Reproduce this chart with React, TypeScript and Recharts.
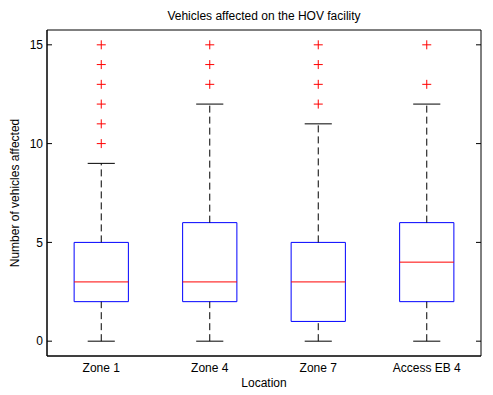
import {
  ComposedChart, Label, ReferenceArea, ReferenceLine, Scatter, XAxis, YAxis,
} from "recharts";

// Box statistics per location.
const LOCATIONS = ["Zone 1", "Zone 4", "Zone 7", "Access EB 4"];
const WHISKER_LOW = [0, 0, 0, 0];
const Q1 = [2, 2, 1, 2];
const MEDIAN = [3, 3, 3, 4];
const Q3 = [5, 6, 5, 6];
const WHISKER_HIGH = [9, 12, 11, 12];
const OUTLIERS = [
  [10, 11, 12, 13, 14, 15],
  [13, 14, 15],
  [12, 13, 14, 15],
  [13, 15],
];
const Y_TICKS = [0, 5, 10, 15];
const X_DOMAIN: [number, number] = [0.5, 4.5];
const Y_DOMAIN: [number, number] = [-0.75, 15.75];

const BOX_HALF = 0.25;
const CAP_HALF = 0.125;
const FONT = "Arial, 'Liberation Sans', sans-serif";
const TEXT = { fill: "#000", fontSize: 12, fontFamily: FONT } as const;

const outlierPoints = OUTLIERS.flatMap((vals, i) => vals.map((y) => ({ x: i + 1, y })));

function Plus(props: { cx?: number; cy?: number }) {
  const { cx = 0, cy = 0 } = props;
  return (
    <g stroke="#ff0000" strokeWidth={1}>
      <line x1={cx - 4.5} x2={cx + 4.5} y1={cy} y2={cy} />
      <line x1={cx} x2={cx} y1={cy - 4.5} y2={cy + 4.5} />
    </g>
  );
}

export default function App() {
  return (
    <div style={{ position: "absolute", left: 0, top: 0, background: "#fff" }}>
      <ComposedChart
        width={493}
        height={395}
        margin={{ top: 30, right: 11, bottom: 0, left: 0 }}
        style={{ fontFamily: FONT }}
      >
        <XAxis
          xAxisId="b"
          type="number"
          dataKey="x"
          domain={X_DOMAIN}
          ticks={[1, 2, 3, 4]}
          tickFormatter={(v: number) => LOCATIONS[v - 1] ?? ""}
          tickLine={false}
          tickSize={0}
          tickMargin={7}
          height={39}
          axisLine={{ stroke: "#000" }}
          tick={TEXT}
          allowDataOverflow
        >
          <Label value="Location" position="insideBottom" offset={8} style={TEXT} />
        </XAxis>
        <YAxis
          yAxisId="l"
          type="number"
          domain={Y_DOMAIN}
          ticks={Y_TICKS}
          width={47}
          tickSize={-5}
          tickMargin={9}
          tickLine={{ stroke: "#000" }}
          axisLine={{ stroke: "#000" }}
          tick={TEXT}
          allowDataOverflow
        >
          <Label
            value="Number of vehicles affected"
            angle={-90}
            position="insideLeft"
            offset={15}
            style={{ ...TEXT, textAnchor: "middle" }}
          />
        </YAxis>
        <YAxis
          yAxisId="r"
          orientation="right"
          type="number"
          domain={Y_DOMAIN}
          ticks={Y_TICKS}
          width={1}
          tickSize={-5}
          tick={() => <g />}
          tickLine={{ stroke: "#000" }}
          axisLine={false}
          allowDataOverflow
        />

        {/* axes frame (top and right edges) */}
        <ReferenceArea
          xAxisId="b"
          yAxisId="l"
          x1={X_DOMAIN[0]}
          x2={X_DOMAIN[1]}
          y1={Y_DOMAIN[0]}
          y2={Y_DOMAIN[1]}
          fill="none"
          fillOpacity={0}
          stroke="#000"
          strokeOpacity={1}
        />

        {LOCATIONS.map((name, i) => {
          const c = i + 1;
          return [
            <ReferenceLine
              key={`wl${name}`}
              xAxisId="b"
              yAxisId="l"
              segment={[{ x: c, y: WHISKER_LOW[i] }, { x: c, y: Q1[i] }]}
              stroke="#000"
              strokeDasharray="7 4"
            />,
            <ReferenceLine
              key={`wh${name}`}
              xAxisId="b"
              yAxisId="l"
              segment={[{ x: c, y: Q3[i] }, { x: c, y: WHISKER_HIGH[i] }]}
              stroke="#000"
              strokeDasharray="7 4"
            />,
            <ReferenceLine
              key={`cl${name}`}
              xAxisId="b"
              yAxisId="l"
              segment={[{ x: c - CAP_HALF, y: WHISKER_LOW[i] }, { x: c + CAP_HALF, y: WHISKER_LOW[i] }]}
              stroke="#000"
            />,
            <ReferenceLine
              key={`ch${name}`}
              xAxisId="b"
              yAxisId="l"
              segment={[{ x: c - CAP_HALF, y: WHISKER_HIGH[i] }, { x: c + CAP_HALF, y: WHISKER_HIGH[i] }]}
              stroke="#000"
            />,
            <ReferenceArea
              key={`box${name}`}
              xAxisId="b"
              yAxisId="l"
              x1={c - BOX_HALF}
              x2={c + BOX_HALF}
              y1={Q1[i]}
              y2={Q3[i]}
              fill="none"
              fillOpacity={0}
              stroke="#0000ff"
              strokeOpacity={1}
            />,
            <ReferenceLine
              key={`med${name}`}
              xAxisId="b"
              yAxisId="l"
              segment={[{ x: c - BOX_HALF, y: MEDIAN[i] }, { x: c + BOX_HALF, y: MEDIAN[i] }]}
              stroke="#ff0000"
            />,
          ];
        })}

        <Scatter
          xAxisId="b"
          yAxisId="l"
          data={outlierPoints}
          dataKey="y"
          shape={<Plus />}
          isAnimationActive={false}
        />

        <text x={264} y={20} textAnchor="middle" {...TEXT}>
          Vehicles affected on the HOV facility
        </text>
      </ComposedChart>
    </div>
  );
}
